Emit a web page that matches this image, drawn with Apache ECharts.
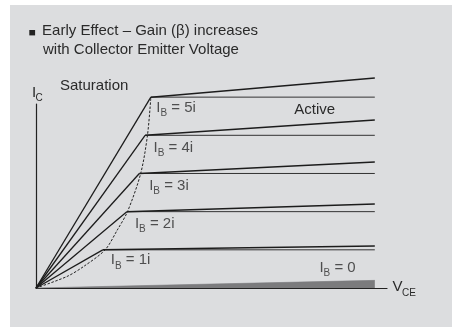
<!DOCTYPE html>
<html>
<head>
<meta charset="utf-8">
<script src="https://cdn.jsdelivr.net/npm/echarts@6/dist/echarts.min.js"></script>
<style>
  html, body { margin: 0; padding: 0; background: #ffffff; }
  #chart { width: 452px; height: 327px; }
</style>
</head>
<body>
<div id="chart"></div>
<script>
// Transistor output characteristics: I_C versus V_CE for base-current steps
const baseSteps = [1, 2, 3, 4, 5];                  // I_B = n·i
const kneeVce   = [1.97, 2.68, 3.05, 3.22, 3.39];   // edge of saturation (V)
const flatIc    = [1.0, 2.0, 3.0, 4.0, 5.0];        // ideal constant I_C (mA)
const earlyIc   = [1.1, 2.2, 3.3, 4.4, 5.5];        // I_C at vceEnd with Early effect (mA)
const vceEnd    = 10;                               // right end of the curves (V)
const leakageIc = 0.2;                              // I_B = 0 leakage at vceEnd (mA)
const leakLabelVce = 8.35;                          // anchor of the I_B = 0 label
// saturation boundary (dashed)
const satVce = [0, 0.91, 1.40, 2.04, 2.40, 2.70, 3.09, 3.29, 3.39];
const satIc  = [0, 0.30, 0.56, 1.0, 1.52, 2.0, 3.0, 4.0, 5.0];
const titleLines = ['Early Effect \u2013 Gain (\u03b2) increases', 'with Collector Emitter Voltage'];

const FONT = '"Liberation Sans", Arial, Helvetica, sans-serif';
const INK = '#2a2a2a';
const LINE = '#1c1c1c';

const chart = echarts.init(document.getElementById('chart'), null, { renderer: 'canvas' });

const series = [];

// I_B = 0 leakage wedge
series.push({
  type: 'line',
  data: [[0, 0], [vceEnd, leakageIc]],
  symbol: 'none',
  clip: false,
  lineStyle: { width: 0.6, color: '#7b7b7d' },
  areaStyle: { color: '#7b7b7d', opacity: 1 },
  z: 3
});

baseSteps.forEach((n, k) => {
  // rise through saturation region
  series.push({
    type: 'line', symbol: 'none', clip: false, z: 4,
    data: [[0, 0], [kneeVce[k], flatIc[k]]],
    lineStyle: { width: 1.3, color: LINE }
  });
  // ideal active region (flat)
  series.push({
    type: 'line', symbol: 'none', clip: false, z: 4,
    data: [[kneeVce[k], flatIc[k]], [vceEnd, flatIc[k]]],
    lineStyle: { width: 1, color: '#333333' }
  });
  // active region with Early effect
  series.push({
    type: 'line', symbol: 'none', clip: false, z: 4,
    data: [[kneeVce[k], flatIc[k]], [vceEnd, earlyIc[k]]],
    lineStyle: { width: 1.5, color: LINE }
  });
});

// saturation boundary
series.push({
  type: 'line', symbol: 'none', clip: false, z: 5,
  smooth: 0.3,
  data: satVce.map((v, i) => [v, satIc[i]]),
  lineStyle: { width: 1, color: '#222222', type: [2.5, 1.6] }
});

// I_B labels anchored on each knee
const labelOffsets = [[7.6, 10.5], [7.6, 12], [9.3, 12.3], [7.9, 12.3], [4.9, 10.5]];
const labelData = baseSteps.map((n, k) => ({
  value: [kneeVce[k], flatIc[k]],
  name: n + 'i',
  label: { offset: labelOffsets[k] }
}));
labelData.push({ value: [leakLabelVce, 0], name: '0', label: { offset: [0, -20] } });

series.push({
  type: 'scatter',
  symbolSize: 1,
  itemStyle: { color: 'rgba(0,0,0,0)' },
  clip: false,
  z: 6,
  silent: true,
  data: labelData,
  label: {
    show: true,
    position: 'right',
    distance: 0,
    formatter: p => '{m|I}{s|B}{m| = ' + p.name + '}',
    rich: {
      m: { fontSize: 15, lineHeight: 16, fontFamily: FONT, color: INK },
      s: { fontSize: 10, lineHeight: 10, fontFamily: FONT, color: INK, padding: [11, 0, 0, 0] }
    }
  }
});

function txt(x, y, text, size) {
  return {
    type: 'text', x: x, y: y, z: 100, silent: true,
    style: {
      text: text, fill: INK, font: size + 'px ' + FONT,
      textAlign: 'left', textVerticalAlign: 'middle', verticalAlign: 'middle'
    }
  };
}

const option = {
  animation: false,
  backgroundColor: '#ffffff',
  grid: { left: 36, top: 104, width: 351, height: 184, containLabel: false },
  xAxis: {
    type: 'value', min: 0, max: 10.36,
    axisLine: { show: true, lineStyle: { color: '#222222', width: 1.2 } },
    axisTick: { show: false }, axisLabel: { show: false }, splitLine: { show: false }
  },
  yAxis: {
    type: 'value', min: 0, max: 4.82,
    axisLine: { show: true, lineStyle: { color: '#222222', width: 1.2 } },
    axisTick: { show: false }, axisLabel: { show: false }, splitLine: { show: false }
  },
  graphic: [
    { type: 'rect', z: -100, silent: true,
      shape: { x: 10, y: 5, width: 442, height: 322 },
      style: { fill: '#dcdddf' } },
    { type: 'rect', z: 100, silent: true,
      shape: { x: 29.3, y: 30, width: 5.8, height: 5.4 },
      style: { fill: '#222222' } },
    txt(42.1, 31, titleLines[0], 15),
    txt(43, 49.6, titleLines[1], 15),
    txt(60, 86, 'Saturation', 15),
    txt(294.3, 109.6, 'Active', 15),
    txt(32, 93, 'I', 15),
    txt(35.6, 98.5, 'C', 10),
    txt(392.5, 286.8, 'V', 15),
    txt(402, 293.4, 'CE', 10)
  ],
  series: series
};

chart.setOption(option);
</script>
</body>
</html>
